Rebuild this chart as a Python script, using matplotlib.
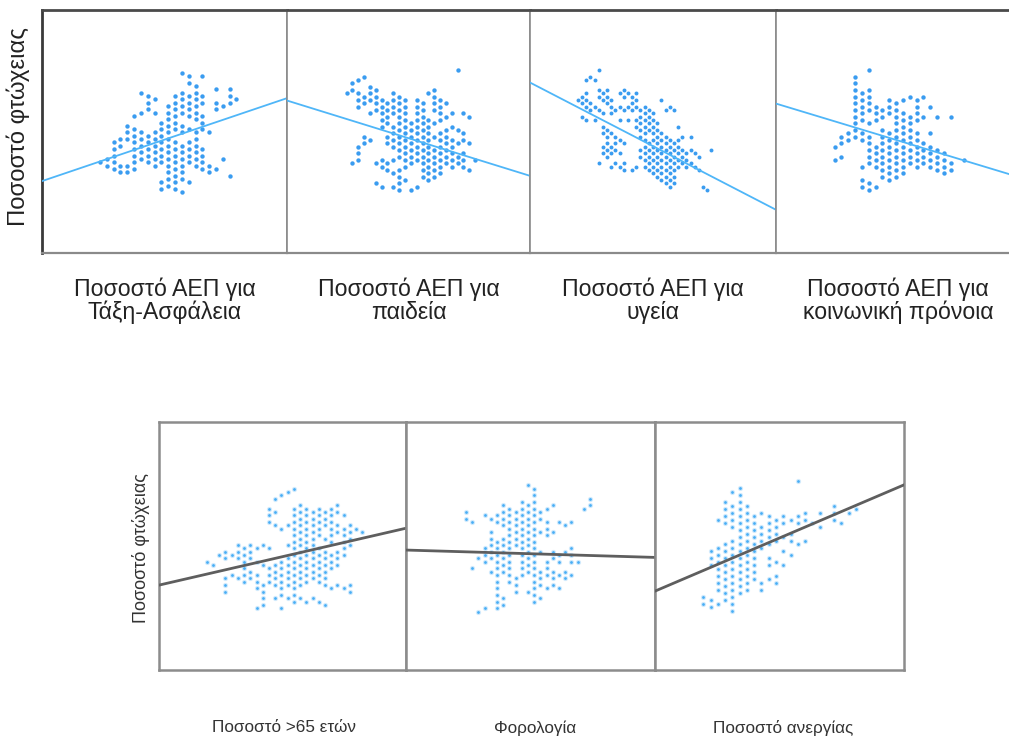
import numpy as np
import matplotlib.pyplot as plt

plt.rcParams['font.family'] = ['Liberation Sans', 'DejaVu Sans']

# Binned scatter: one string per bin column, listing the occupied bin levels.
# "a-b" means every second level from a to b (hexagonal packing).
top_titles = ["Ποσοστό ΑΕΠ για\nΤάξη-Ασφάλεια", "Ποσοστό ΑΕΠ για\nπαιδεία",
              "Ποσοστό ΑΕΠ για\nυγεία", "Ποσοστό ΑΕΠ για\nκοινωνική πρόνοια"]
bottom_titles = ["Ποσοστό >65 ετών", "Φορολογία", "Ποσοστό ανεργίας"]
y_title = "Ποσοστό φτώχειας"

safety = ["10", "11,9", "16-8", "17,15,9,7", "21,19,17,9,7", "24,20-8",
          "31,25,19-11", "30-26,18-10", "29,25,19-9", "22-10,4,2", "27-3",
          "30-20,16-2", "37,31-25,21-19,15-5,1", "36,34,30-24,20,16-10,4",
          "33-23,19-9", "36,30,28,24-20,14-8", "19,9,7", "32,28,26,8",
          "27,11", "32-28,6", "29"]
education = ["30", "33,31,9", "34,30-26,14-10", "35,29,27,17,15", "32-28,24,16",
             "31-25,9,3", "28-20,10,8,2", "27-21,17,15,9,7", "30-24,20-14,10,6,2",
             "29-21,19-11,7-1", "28-8,4", "21-9,1", "28-10,2", "27-5", "30,22-4",
             "31-25,21,17,13-5", "28-22,18-6", "27,23,19-9", "24,20,16-8",
             "37,19,15,11,9", "24,18,16,12-8", "23,15,7", "10"]
health = ["28", "29,27,23", "34,30-26,22", "35,27,25", "34,26,22", "37,31,29,25,9",
          "30,28,24,20,18,14,12", "31-27,19-11", "28-24,18,14,12,8",
          "25,17-13,9", "30,26,22,16,12,8", "31,29,25,15,9,7", "30,26,22",
          "29,27,25,7", "30-26,22,20,8", "25-17,13,11", "26-8", "25-19,15-7",
          "24-6", "21-5", "28,18-4", "25,17-3", "26,16-2", "25,15-3",
          "20,16-8", "17,13-9", "12-8", "17,13,9", "12,8", "11,7", "2", "1", "13"]
welfare = ["14,10", "17,15,11", "18,16", "35-17", "30-22,18,16,8,4,2",
           "37,31-25,21,17-9,3,1", "26-22,14-8,2", "25,23,19-5", "28-24,18-4",
           "27-5", "28,24-6", "29,23-9", "28-22,18-8", "29,23,15-9",
           "26,18,14-8", "23,13-7", "12-6", "23,9,7", "", "10"]
over65 = ["15", "14", "17", "18,16,10-6", "17,11", "20-16,10", "19-9",
          "20-16,12,10", "19,15,11-7,1", "20,14,8-2", "31-27,19,13-9",
          "34,30,26,14-8,4", "35,25,15-5,1", "36,26,20,16-8,4", "37,31-5,3",
          "32-8,4", "31-9,3", "30-10,4", "31-23,19-9,3", "30-26,22,18-8,2",
          "31-21,17-13,7", "32,30,26,24,18-14,8", "29,25-17,7", "26-20,8,6",
          "25", "24"]
taxation = ["30,28", "27,13", "16,0", "29,19-15,1", "28,24-16,12", "29,27,21-1",
            "32-26,22-12,4,2", "31-9", "30-20,10-6", "33-11", "38,32-12,6",
            "37,35,33-3", "30,28,24,18,12-8,4", "31,27-23,15-11,7",
            "32,24,18,16,12-8", "27,17,15,11,7", "26,18,12,10", "27,19-15,11",
            "15", "31", "34,32"]
unemployment = ["4,2", "17-13,3,1", "26,18-6,2", "31-25,19-3", "34,30-24,20-0",
                "35-5", "30-6", "27-9", "28,24-18,8,6", "27-19,15,13,9",
                "26-20,14,10,8", "27,25,21,17,13", "26,22,20,16", "37,27,25,19",
                "28,26,20", "25", "28,24", "", "30-26", "25", "28", "29"]

# fitted line per panel: (level at bin column 0, slope)
fits = [(10.3, 0.694), (22.3, -0.543), (25.8, -0.647), (21.6, -0.619),
        (11.3, 0.431), (18.0, -0.055), (11.5, 0.886)]


def bins(columns):
    xs, ys = [], []
    for i, col in enumerate(columns):
        for part in filter(None, col.split(",")):
            if "-" in part:
                a, b = map(int, part.split("-"))
                levels = range(min(a, b), max(a, b) + 1, 2)
            else:
                levels = [int(part)]
            for lv in levels:
                xs.append(i)
                ys.append(lv)
    return np.array(xs), np.array(ys)


W, H = 1009, 740
fig = plt.figure(figsize=(W / 100, H / 100), dpi=100)


def panel(left, top, right, bottom, xlim, ylim):
    ax = fig.add_axes([left / W, 1 - bottom / H, (right - left) / W, (bottom - top) / H])
    ax.set_xlim(*xlim)
    ax.set_ylim(*ylim)
    ax.set_xticks([])
    ax.set_yticks([])
    return ax


# top row
top_data = [safety, education, health, welfare]
top_edges = [(42, 287), (287, 530), (530, 776), (776, 1012)]
top_xlims = [(-8.5, 27.4), (-10.2, 31.4), (-11.5, 47.5), (-8.6, 26.0)]
top_ylims = [(-17.2, 55.8), (-17.9, 55.0), (-17.9, 55.0), (-17.9, 55.0)]
top_sizes = [10, 10, 8, 10]
for k in range(4):
    ax = panel(top_edges[k][0], 10, top_edges[k][1], 253, top_xlims[k], top_ylims[k])
    x, y = bins(top_data[k])
    ax.scatter(x, y, s=top_sizes[k], color='#3a9cf0', linewidths=0, zorder=2)
    b, m = fits[k]
    ax.axline((0, b), slope=m, color='#4fb6f8', lw=1.3, zorder=3)
    for side in ['left', 'right', 'top', 'bottom']:
        ax.spines[side].set_color('#8a8a8a')
        ax.spines[side].set_linewidth(1.2)
    ax.spines['top'].set_color('#4a4a4a')
    ax.spines['top'].set_linewidth(2)
    ax.spines['bottom'].set_linewidth(1.6)
    if k == 0:
        ax.spines['left'].set_color('#3a3a3a')
        ax.spines['left'].set_linewidth(2)
    if k == 3:
        ax.spines['right'].set_visible(False)
    cx = sum(top_edges[k]) / 2 if k < 3 else 898
    fig.text(cx / W, 1 - 301 / H, top_titles[k], ha='center', va='center',
             fontsize=16.7, linespacing=0.98, color='#222222')

fig.text(18 / W, 1 - 127 / H, y_title, rotation=90, ha='center', va='center',
         fontsize=17.2, color='#222222')

# bottom row
bottom_data = [over65, taxation, unemployment]
bottom_edges = [(159, 406), (406, 655), (655, 904)]
bottom_xlims = [(-7.66, 32.0), (-9.68, 30.5), (-6.64, 27.6)]
bottom_ylims = [(-17.5, 57.0), (-17.5, 57.0), (-16.9, 53.9)]
bottom_cx = [284, 535, 783]
for k in range(3):
    ax = panel(bottom_edges[k][0], 422, bottom_edges[k][1], 670,
               bottom_xlims[k], bottom_ylims[k])
    x, y = bins(bottom_data[k])
    ax.scatter(x, y, s=14, color='#cfe9fc', linewidths=0, zorder=2)
    ax.scatter(x, y, s=4, color='#48aef5', linewidths=0, zorder=2)
    b, m = fits[4 + k]
    ax.axline((0, b), slope=m, color='#5e5e5e', lw=2, zorder=3)
    for side in ['left', 'right', 'top', 'bottom']:
        ax.spines[side].set_color('#8c8c8c')
        ax.spines[side].set_linewidth(1.8)
    fig.text(bottom_cx[k] / W, 1 - 728 / H, bottom_titles[k], ha='center',
             va='center', fontsize=12.3, color='#333333')

fig.text(141 / W, 1 - 548 / H, y_title, rotation=90, ha='center', va='center',
         fontsize=13, color='#333333')

fig.savefig("out.png", dpi=100)
